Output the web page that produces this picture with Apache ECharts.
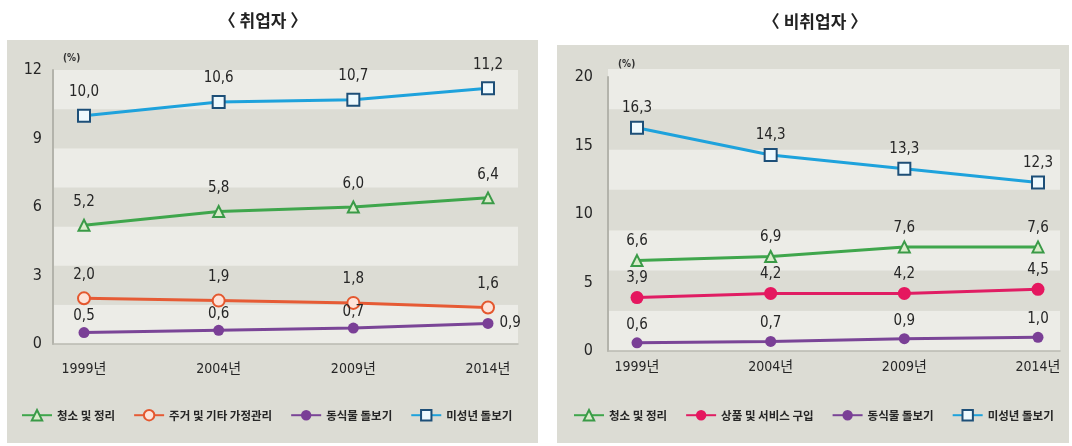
<!DOCTYPE html>
<html>
<head>
<meta charset="utf-8">
<script src="https://cdn.jsdelivr.net/npm/echarts@6/dist/echarts.min.js"></script>
<style>
  html, body { margin: 0; padding: 0; background: #ffffff; }
  #chart { width: 1072px; height: 446px; }
</style>
</head>
<body>
<div id="chart"></div>
<script>
// Years on the horizontal axis (shared by both panels)
const years = ['1999년', '2004년', '2009년', '2014년'];

// 취업자 (employed), %
const empCleaning = [5.2, 5.8, 6.0, 6.4];
const empHousing  = [2.0, 1.9, 1.8, 1.6];
const empCare     = [0.5, 0.6, 0.7, 0.9];
const empChild    = [10.0, 10.6, 10.7, 11.2];

// 비취업자 (not employed), %
const nonCleaning = [6.6, 6.9, 7.6, 7.6];
const nonShopping = [3.9, 4.2, 4.2, 4.5];
const nonCare     = [0.6, 0.7, 0.9, 1.0];
const nonChild    = [16.3, 14.3, 13.3, 12.3];

// Value-axis ranges
const leftAxis  = { max: 12, step: 3 };
const rightAxis = { max: 20, step: 5 };

const panelTitles = ['〈 취업자 〉', '〈 비취업자 〉'];
const unitLabel = '(%)';

const NUM_FONT = "'Liberation Sans Narrow', 'DejaVu Sans Condensed', 'Noto Sans CJK KR', sans-serif";
const KR_FONT = "'Noto Sans CJK KR', 'Noto Sans', sans-serif";
const PANEL_BG = '#dcdcd4';
const BAND_LIGHT = '#ececE7';
const TEXT = '#262626';

const fmt = v => v.toFixed(1).replace('.', ',');

const styles = {
  cleaning: { color: '#3fa64c', symbol: 'triangle', size: 11, fill: '#d9ecca', border: '#3a9a47' },
  housing:  { color: '#e65b35', symbol: 'circle', size: 12, fill: '#fde3d9', border: '#e4572e' },
  shopping: { color: '#e01d63', symbol: 'circle', size: 13, fill: '#e5175f', border: '#e5175f' },
  care:     { color: '#7a4597', symbol: 'circle', size: 11, fill: '#7a3f96', border: '#7a3f96' },
  child:    { color: '#1ea2dc', symbol: 'rect', size: 12, fill: '#eef9fd', border: '#1d4f78' }
};

function lineSeries(name, values, st, gridIdx, labelDistance, labelOverrides) {
  return {
    type: 'line',
    name: name,
    xAxisIndex: gridIdx,
    yAxisIndex: gridIdx,
    data: values.map((v, i) => {
      const item = { value: v };
      if (labelOverrides && labelOverrides[i]) item.label = labelOverrides[i];
      return item;
    }),
    symbol: st.symbol,
    symbolSize: st.size,
    showAllSymbol: true,
    lineStyle: { color: st.color, width: 3 },
    itemStyle: { color: st.fill, borderColor: st.border, borderWidth: st.fill === st.border ? 0 : 2 },
    label: {
      show: true,
      position: 'top',
      distance: labelDistance,
      formatter: p => fmt(p.value),
      color: TEXT,
      fontSize: 15,
      fontFamily: NUM_FONT
    },
    emphasis: { disabled: true },
    z: 3
  };
}

// Band grid: background stripes and frame line for one panel
function bandAxes(left, top, width, height) {
  return {
    grid: { left: left, top: top, width: width, height: height, containLabel: false },
    xAxis: {
      type: 'value', min: 0, max: 1,
      axisLine: { show: true, lineStyle: { color: '#b9b9b1', width: 1.5 } },
      axisTick: { show: false }, axisLabel: { show: false }, splitLine: { show: false }
    },
    yAxis: {
      type: 'value', min: 0, max: 7, interval: 1,
      axisLine: { show: false }, axisTick: { show: false }, axisLabel: { show: false },
      splitLine: { show: false },
      splitArea: { show: true, areaStyle: { color: [BAND_LIGHT, PANEL_BG] } }
    }
  };
}

// Data grid: category years and the labelled value axis
function dataAxes(left, top, width, height, range, yOffset, labelMargin, xMargin) {
  return {
    grid: { left: left, top: top, width: width, height: height, containLabel: false },
    xAxis: {
      type: 'category', data: years, boundaryGap: false,
      axisLine: { show: false }, axisTick: { show: false },
      axisLabel: { color: TEXT, fontSize: 14, fontFamily: NUM_FONT, margin: xMargin }
    },
    yAxis: {
      type: 'value', min: 0, max: range.max, interval: range.step,
      offset: yOffset,
      axisLine: { show: true, lineStyle: { color: '#b3b3ab', width: 2 } },
      axisTick: { show: false },
      axisLabel: { color: TEXT, fontSize: 16, fontFamily: NUM_FONT, margin: labelMargin },
      splitLine: { show: false }
    }
  };
}

const parts = [
  bandAxes(53, 70, 465, 274),
  dataAxes(84, 70, 404, 274, leftAxis, 31, 11, 18),
  bandAxes(608, 69, 452, 282),
  dataAxes(637, 77, 401, 274, rightAxis, 29, 15, 9)
];

const legendText = { color: TEXT, fontSize: 11.5, fontWeight: 'bold', fontFamily: KR_FONT };

const chart = echarts.init(document.getElementById('chart'), null, { renderer: 'canvas' });

chart.setOption({
  animation: false,
  backgroundColor: '#ffffff',
  graphic: [
    { type: 'rect', z: -100, shape: { x: 7, y: 40, width: 531, height: 403 }, style: { fill: PANEL_BG } },
    { type: 'rect', z: -100, shape: { x: 557, y: 45, width: 512, height: 398 }, style: { fill: PANEL_BG } },
    { type: 'text', x: 263, y: 21, style: { text: panelTitles[0], fontSize: 17, fontWeight: 'bold', fontFamily: KR_FONT, fill: '#222', align: 'center', verticalAlign: 'middle' } },
    { type: 'text', x: 815, y: 22, style: { text: panelTitles[1], fontSize: 17, fontWeight: 'bold', fontFamily: KR_FONT, fill: '#222', align: 'center', verticalAlign: 'middle' } },
    { type: 'text', x: 63, y: 58, style: { text: unitLabel, fontSize: 10, fontWeight: 'bold', fontFamily: NUM_FONT, fill: '#333', align: 'left', verticalAlign: 'middle' } },
    { type: 'text', x: 618, y: 64, style: { text: unitLabel, fontSize: 10, fontWeight: 'bold', fontFamily: NUM_FONT, fill: '#333', align: 'left', verticalAlign: 'middle' } }
  ],
  grid: parts.map(p => p.grid),
  xAxis: parts.map((p, i) => Object.assign({ gridIndex: i }, p.xAxis)),
  yAxis: parts.map((p, i) => Object.assign({ gridIndex: i }, p.yAxis)),
  legend: [
    {
      left: 16, top: 404, itemWidth: 30, itemHeight: 13, itemGap: 18,
      textStyle: legendText,
      data: ['청소 및 정리', '주거 및 기타 가정관리', '동식물 돌보기', '미성년 돌보기'],
      selectedMode: false
    },
    {
      left: 568, top: 404, itemWidth: 30, itemHeight: 13, itemGap: 18,
      textStyle: legendText,
      data: ['청소 및 정리', '상품 및 서비스 구입', '동식물 돌보기', '미성년 돌보기'],
      selectedMode: false
    }
  ],
  series: [
    lineSeries('청소 및 정리', empCleaning, styles.cleaning, 1, 9),
    lineSeries('주거 및 기타 가정관리', empHousing, styles.housing, 1, 9),
    lineSeries('동식물 돌보기', empCare, styles.care, 1, 3, { 3: { position: 'right', distance: 6 } }),
    lineSeries('미성년 돌보기', empChild, styles.child, 1, 9),
    lineSeries('청소 및 정리', nonCleaning, styles.cleaning, 3, 5),
    lineSeries('상품 및 서비스 구입', nonShopping, styles.shopping, 3, 5),
    lineSeries('동식물 돌보기', nonCare, styles.care, 3, 5),
    lineSeries('미성년 돌보기', nonChild, styles.child, 3, 5)
  ]
});
</script>
</body>
</html>
